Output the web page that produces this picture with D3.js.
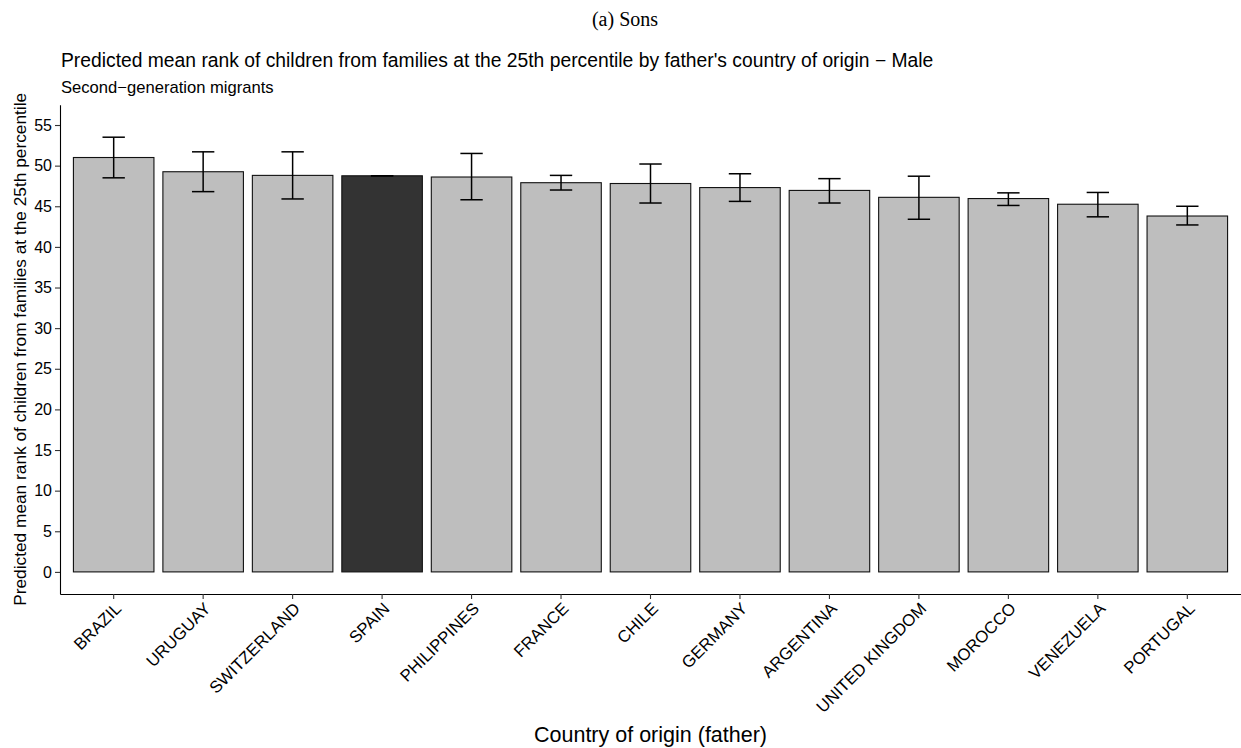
<!DOCTYPE html>
<html>
<head>
<meta charset="utf-8">
<script src="https://cdn.jsdelivr.net/npm/d3@7"></script>
<style>
  html, body { margin: 0; padding: 0; background: #fff; }
  svg { display: block; }
  text { font-family: "Liberation Sans", Arial, Helvetica, sans-serif; fill: #000; }
</style>
</head>
<body>
<svg id="chart" width="1241" height="748"></svg>
<script>
const categories = ["BRAZIL","URUGUAY","SWITZERLAND","SPAIN","PHILIPPINES","FRANCE","CHILE","GERMANY","ARGENTINA","UNITED KINGDOM","MOROCCO","VENEZUELA","PORTUGAL"];
const meanRank = [51.0, 49.25, 48.8, 48.75, 48.6, 47.9, 47.8, 47.3, 46.95, 46.1, 45.95, 45.25, 43.8];
const ciLow  = [48.5, 46.8, 45.9, 48.75, 45.8, 47.0, 45.4, 45.6, 45.4, 43.4, 45.1, 43.7, 42.7];
const ciHigh = [53.5, 51.7, 51.7, 48.75, 51.5, 48.8, 50.2, 49.0, 48.4, 48.7, 46.65, 46.7, 45.0];
const highlight = "SPAIN";
const yTicks = [0,5,10,15,20,25,30,35,40,45,50,55];

const data = categories.map((c, i) => ({cat: c, v: meanRank[i], lo: ciLow[i], hi: ciHigh[i]}));

const svg = d3.select("#chart");
const pLeft = 60, pRight = 1241, pTop = 104.7, pBottom = 594;

const x = d3.scaleBand().domain(categories).range([pLeft, pRight]).paddingInner(0.1).paddingOuter(0.15);
const y = d3.scaleLinear().domain([-2.72, 57.5]).range([pBottom, pTop]);

// Bars
svg.append("g").selectAll("rect").data(data).join("rect")
  .attr("x", d => x(d.cat))
  .attr("width", x.bandwidth())
  .attr("y", d => y(d.v))
  .attr("height", d => y(0) - y(d.v))
  .attr("fill", d => d.cat === highlight ? "#333333" : "#BEBEBE")
  .attr("stroke", "#111")
  .attr("stroke-width", 1.1);

// Error bars
const capW = x.step() * 0.25;
const eb = svg.append("g").attr("stroke", "#000").attr("stroke-width", 1.5).attr("fill", "none");
data.forEach(d => {
  const cx = x(d.cat) + x.bandwidth() / 2;
  eb.append("line").attr("x1", cx).attr("x2", cx).attr("y1", y(d.lo)).attr("y2", y(d.hi));
  eb.append("line").attr("x1", cx - capW/2).attr("x2", cx + capW/2).attr("y1", y(d.lo)).attr("y2", y(d.lo));
  eb.append("line").attr("x1", cx - capW/2).attr("x2", cx + capW/2).attr("y1", y(d.hi)).attr("y2", y(d.hi));
});

// Y axis
const yAxis = svg.append("g").attr("transform", `translate(${pLeft},0)`)
  .call(d3.axisLeft(y).tickValues(yTicks).tickSize(5).tickPadding(3).tickSizeOuter(0));
yAxis.select(".domain").attr("stroke", "#000").attr("stroke-width", 1.1);
yAxis.selectAll(".tick line").attr("stroke", "#333").attr("stroke-width", 1.1);
yAxis.selectAll(".tick text").attr("font-size", 16).attr("fill", "#222").attr("font-family", "Liberation Sans, Arial, sans-serif");

// X axis
const xAxis = svg.append("g").attr("transform", `translate(0,${pBottom})`)
  .call(d3.axisBottom(x).tickSize(5).tickSizeOuter(0));
xAxis.select(".domain").attr("stroke", "#000").attr("stroke-width", 1.1);
xAxis.selectAll(".tick line").attr("stroke", "#333").attr("stroke-width", 1.1);
xAxis.selectAll(".tick text")
  .attr("font-size", 16.8).attr("fill", "#111").attr("font-family", "Liberation Sans, Arial, sans-serif")
  .attr("text-anchor", "end")
  .attr("x", 0).attr("y", 0).attr("dy", "0.72em")
  .attr("transform", "translate(0,7) rotate(-45)");

// Titles
svg.append("text").attr("x", 625).attr("y", 26).attr("text-anchor", "middle")
  .style("font-family", "'Liberation Serif', 'DejaVu Serif', serif").attr("font-size", 20)
  .text("(a) Sons");
svg.append("text").attr("x", 61).attr("y", 67).attr("font-size", 19.3)
  .text("Predicted mean rank of children from families at the 25th percentile by father's country of origin − Male");
svg.append("text").attr("x", 61).attr("y", 92.5).attr("font-size", 16.6)
  .text("Second−generation migrants");
svg.append("text").attr("text-anchor", "middle")
  .attr("transform", `translate(${(pLeft + pRight) / 2},742)`).attr("font-size", 21.5)
  .text("Country of origin (father)");
svg.append("text").attr("text-anchor", "middle")
  .attr("transform", `translate(25.5,${(pTop + pBottom) / 2}) rotate(-90)`).attr("font-size", 17.3)
  .text("Predicted mean rank of children from families at the 25th percentile");
</script>
</body>
</html>
